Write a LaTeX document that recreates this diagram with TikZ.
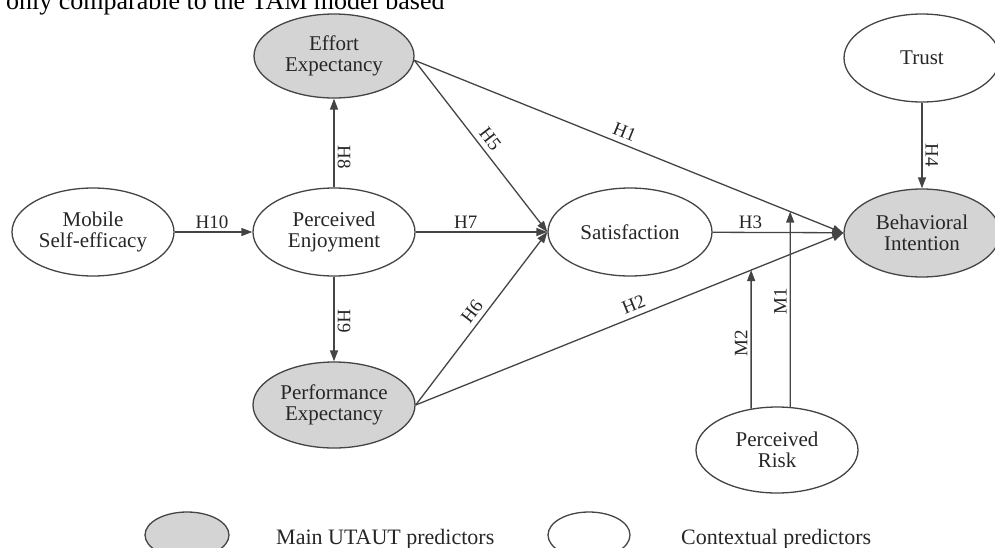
\documentclass[tikz,border=0pt]{standalone}
\usepackage{fontspec}
\setmainfont{Liberation Serif}
\usetikzlibrary{shapes.geometric,arrows.meta,intersections}
\definecolor{inkline}{HTML}{444444}
\definecolor{inktext}{HTML}{262626}
\definecolor{mainfill}{HTML}{D4D4D4}
\begin{document}
\begin{tikzpicture}[x=1pt,y=-1pt,
  construct/.style={ellipse, draw=inkline, line width=1.3pt, inner sep=0pt,
    text=inktext, font=\fontsize{21}{21}\selectfont, align=center},
  mainc/.style={construct, fill=mainfill},
  ctxc/.style={construct, fill=white},
  link/.style={draw=inkline, line width=1.3pt, -{Triangle[length=11pt,width=8pt]}},
  hyp/.style={font=\fontsize{19}{19}\selectfont, text=inktext, inner sep=3pt},
  slopedhyp/.style={hyp, sloped, above, inner sep=5pt},
  keytext/.style={anchor=base west, inner sep=0pt, text=inktext, font=\fontsize{22}{22}\selectfont}
]
\useasboundingbox (0,0) rectangle (995,547);

% running text above the figure
\node[anchor=base west, inner sep=0pt, font=\fontsize{26}{26}\selectfont] (caption) at (6,9.5)
  {only comparable to the TAM model based};

% constructs
\node[ctxc,  minimum width=162pt, minimum height=88pt] (ME)  at (93,232)  {Mobile\\Self-efficacy};
\node[ctxc,  minimum width=162pt, minimum height=88pt] (PE)  at (334,232) {Perceived\\Enjoyment};
\node[mainc, minimum width=160pt, minimum height=84pt] (EE)  at (334,56)  {Effort\\Expectancy};
\node[mainc, minimum width=162pt, minimum height=86pt] (PX)  at (334,405) {Performance\\Expectancy};
\node[ctxc,  minimum width=164pt, minimum height=88pt] (SAT) at (630,232) {Satisfaction};
\node[ctxc,  minimum width=156pt, minimum height=88pt] (TR)  at (922,58)  {Trust};
\node[mainc, minimum width=156pt, minimum height=88pt] (BI)  at (922,233) {Behavioral\\Intention};
\node[ctxc,  minimum width=162pt, minimum height=86pt] (PR)  at (777,450) {Perceived\\Risk};

% hypotheses
\draw[link] (ME) -- node[hyp, above, pos=0.48] {H10} (PE);
\draw[link] (PE) -- node[hyp, above, pos=0.38] {H7} (SAT);
\draw[link] (SAT) -- node[hyp, above, pos=0.29] {H3} (BI);
\draw[link] (PE) -- node[hyp, pos=0.34, anchor=south, rotate=-90] {H8} (EE);
\draw[link] (PE) -- node[hyp, pos=0.53, anchor=south, rotate=-90] {H9} (PX);
\draw[link] (TR) -- node[hyp, pos=0.61, anchor=south, rotate=-90] {H4} (BI);
\draw[link] (EE.-3) -- node[slopedhyp, pos=0.5] {H5} (SAT.west);
\draw[link] (EE.-3) -- node[slopedhyp, pos=0.48] {H1} (BI.west);
\draw[link] (PX.east) -- node[slopedhyp, pos=0.5] {H6} (SAT.west);
\draw[link] (PX.east) -- node[slopedhyp, pos=0.52] {H2} (BI.west);

% moderating effects of perceived risk on H1 and H2
\path[name path=h1path] (EE.-3) -- (BI.west);
\path[name path=h2path] (PX.east) -- (BI.west);
\path[name path=m1ray] (PR.73) -- ++(0,-300);
\path[name path=m2ray] (PR.122) -- ++(0,-300);
\path[name intersections={of=h1path and m1ray, by=m1tip}];
\path[name intersections={of=h2path and m2ray, by=m2tip}];
\draw[link] (PR.73) -- node[hyp, pos=0.54, anchor=south, rotate=90] {M1} (m1tip);
\draw[link] (PR.122) -- node[hyp, pos=0.47, anchor=south, rotate=90] {M2} (m2tip);

% legend
\node[mainc, minimum width=84pt, minimum height=46pt] (keymain) at (187,535) {};
\node[keytext] (keymaintxt) at (276,544) {Main UTAUT predictors};
\node[ctxc, minimum width=82pt, minimum height=46pt] (keyctx) at (589,535) {};
\node[keytext] (keyctxtxt) at (681,544) {Contextual predictors};
\end{tikzpicture}
\end{document}
